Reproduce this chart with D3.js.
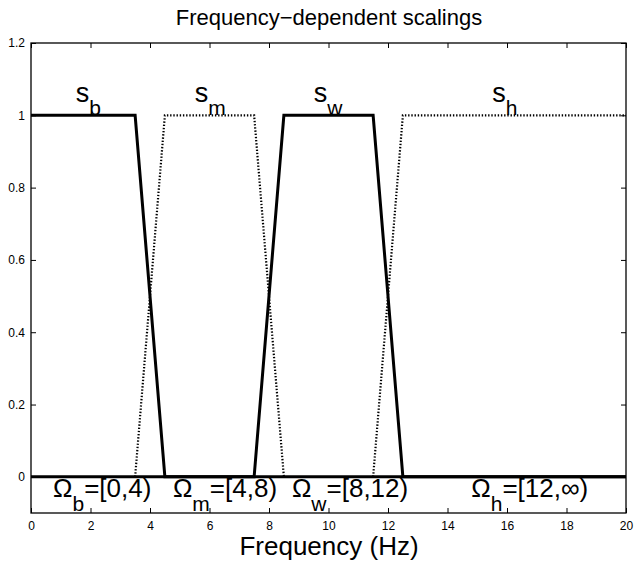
<!DOCTYPE html>
<html>
<head>
<meta charset="utf-8">
<script src="https://cdn.jsdelivr.net/npm/d3@7"></script>
<style>
  body { margin: 0; background: #fff; }
  text { font-family: "Liberation Sans", Arial, Helvetica, sans-serif; fill: #000; }
</style>
</head>
<body>
<svg id="chart" width="635" height="562"></svg>
<script>
// ---- data ----
const xTicks = [0, 2, 4, 6, 8, 10, 12, 14, 16, 18, 20];
const yTicks = [0, 0.2, 0.4, 0.6, 0.8, 1, 1.2];
const yTickLabels = ["0", "0.2", "0.4", "0.6", "0.8", "1", "1.2"];

// solid curves (s_b, s_w) and dotted curves (s_m, s_h)
const sbX = [0, 3.5, 4.5, 20];
const sbY = [1, 1, 0, 0];
const swX = [0, 7.5, 8.5, 11.5, 12.5, 20];
const swY = [0, 0, 1, 1, 0, 0];
const smX = [3.5, 4.5, 7.5, 8.5];
const smY = [0, 1, 1, 0];
const shX = [11.5, 12.5, 20];
const shY = [0, 1, 1];

const sLabels = ["b", "m", "w", "h"];
const sLabelX = [1.5, 5.5, 9.5, 15.5];
const sLabelY = [1, 1, 1, 1];

const omegaSubs = ["b", "m", "w", "h"];
const omegaRanges = ["=[0,4)", "=[4,8)", "=[8,12)", "=[12,\u221E)"];
const omegaX = [0.74, 4.77, 8.77, 14.8];
const omegaY = [-0.055, -0.055, -0.055, -0.055];

const title = "Frequency\u2212dependent scalings";
const xLabel = "Frequency (Hz)";

// ---- layout ----
const svg = d3.select("#chart");
const L = 31, R = 626, T = 43, B = 513;
const x = d3.scaleLinear().domain([0, 20]).range([L, R]);
const y = d3.scaleLinear().domain([-0.1, 1.2]).range([B, T]);

// axes
const tickLen = 5;
const axB = d3.axisBottom(x).tickValues(xTicks).tickSizeInner(-tickLen).tickSizeOuter(0).tickPadding(8).tickFormat(d3.format("d"));
const axT = d3.axisTop(x).tickValues(xTicks).tickSizeInner(-tickLen).tickSizeOuter(0).tickFormat("");
const axL = d3.axisLeft(y).tickValues(yTicks).tickSizeInner(-tickLen).tickSizeOuter(0).tickPadding(6).tickFormat((d, i) => yTickLabels[i]);
const axR = d3.axisRight(y).tickValues(yTicks).tickSizeInner(-tickLen).tickSizeOuter(0).tickFormat("");

function styleAxis(g) {
  g.select(".domain").remove();
  g.selectAll(".tick line").attr("stroke", "#000").attr("stroke-width", 1);
  g.selectAll(".tick text").attr("font-size", 12).attr("font-family", "Liberation Sans, Arial, sans-serif");
}
svg.append("g").attr("transform", `translate(0,${B})`).call(axB).call(styleAxis);
svg.append("g").attr("transform", `translate(0,${T})`).call(axT).call(styleAxis);
svg.append("g").attr("transform", `translate(${L},0)`).call(axL).call(styleAxis);
svg.append("g").attr("transform", `translate(${R},0)`).call(axR).call(styleAxis);

// curves
const line = d3.line().x(d => x(d[0])).y(d => y(d[1]));
function drawCurve(xs, ys, dotted) {
  const pts = xs.map((v, i) => [v, ys[i]]);
  const p = svg.append("path").datum(pts).attr("d", line)
    .attr("fill", "none").attr("stroke", "#000");
  if (dotted) p.attr("stroke-width", 2.2).attr("stroke-dasharray", "1.4,1.8");
  else p.attr("stroke-width", 3).attr("stroke-linejoin", "miter");
}
drawCurve(smX, smY, true);
drawCurve(shX, shY, true);
drawCurve(sbX, sbY, false);
drawCurve(swX, swY, false);

// s labels
sLabels.forEach((s, i) => {
  const t = svg.append("text").attr("x", x(sLabelX[i])).attr("y", y(sLabelY[i]) - 13)
    .attr("font-size", 27);
  t.append("tspan").text("s");
  t.append("tspan").attr("dy", 13).attr("font-size", 21).text(s);
});

// omega labels
omegaSubs.forEach((s, i) => {
  const t = svg.append("text").attr("x", x(omegaX[i])).attr("y", y(omegaY[i]))
    .attr("font-size", 26);
  t.append("tspan").text("\u03A9");
  t.append("tspan").attr("dy", 14).attr("font-size", 21).text(s);
  t.append("tspan").attr("dy", -14).text(omegaRanges[i]);
});

// frame
svg.append("rect").attr("x", L).attr("y", T).attr("width", R - L).attr("height", B - T)
  .attr("fill", "none").attr("stroke", "#000").attr("stroke-width", 1.3);

// title & x label
svg.append("text").attr("x", 329).attr("y", 25).attr("text-anchor", "middle")
  .attr("font-size", 22).text(title);
svg.append("text").attr("x", 329).attr("y", 555).attr("text-anchor", "middle")
  .attr("font-size", 26).text(xLabel);
</script>
</body>
</html>
